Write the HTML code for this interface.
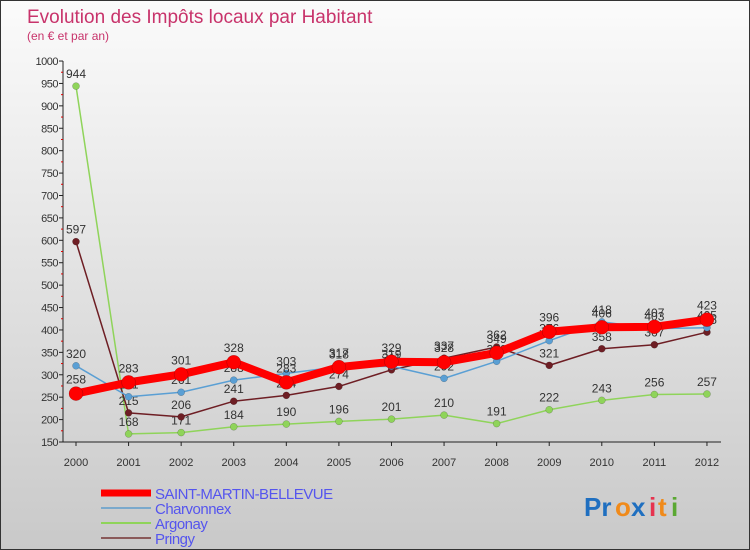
<!DOCTYPE html>
<html><head><meta charset="utf-8">
<style>
html,body{margin:0;padding:0;}
body{width:750px;height:550px;overflow:hidden;font-family:"Liberation Sans",sans-serif;}
#wrap{position:relative;width:748px;height:548px;border:1px solid #333;background:linear-gradient(#fbfbfb,#c9c9c9);}
</style></head>
<body>
<div id="wrap">
<svg id="chart" width="748" height="548" style="position:absolute;left:0;top:0">
<text x="26" y="22" font-size="19" fill="#c8336b">Evolution des Impôts locaux par Habitant</text>
<text x="26" y="39" font-size="12" fill="#c8336b">(en € et par an)</text>
<g id="axes"></g>
<g id="series"></g>
<g id="legend"></g>
<g font-size="26" font-weight="bold">
<text x="583" y="515" fill="#1f6fc0">Pr</text><text x="614" y="515" fill="#f08a1a">o</text><text x="630" y="515" fill="#1f6fc0">x</text><text x="648" y="515" fill="#e6334f">i</text><text x="657" y="515" fill="#f08a1a">t</text><text x="670" y="515" fill="#5aa832">i</text>
</g>
</svg>
</div>
<script>
const years=["2000","2001","2002","2003","2004","2005","2006","2007","2008","2009","2010","2011","2012"];
const yTicks=[150,200,250,300,350,400,450,500,550,600,650,700,750,800,850,900,950,1000];
const saintMartin=[258,283,301,328,283,317,329,328,349,396,406,407,423];
const charvonnex=[320,251,261,288,303,318,319,292,330,376,418,403,405];
const argonay=[944,168,171,184,190,196,201,210,191,222,243,256,257];
const pringy=[597,215,206,241,254,274,311,337,362,321,358,367,395];
const NS="http://www.w3.org/2000/svg";
function xS(i){return 75+i*52.58;}
function yS(v){return 441-(v-150)*0.4482;}
function mk(tag,attrs,parent){const e=document.createElementNS(NS,tag);for(const k in attrs)e.setAttribute(k,attrs[k]);parent.appendChild(e);return e;}
const axes=document.getElementById('axes');
mk('line',{x1:62,y1:yS(1000),x2:62,y2:441,stroke:'#222','stroke-width':1},axes);
mk('line',{x1:62,y1:441,x2:720,y2:441,stroke:'#222','stroke-width':1},axes);
yTicks.forEach(t=>{
  const l=mk('line',{x1:58,y1:yS(t),x2:62,y2:yS(t),stroke:'#222'},axes);
  
  
  const tx=mk('text',{x:57,y:yS(t)+4,'font-size':11,fill:'#333','text-anchor':'end','letter-spacing':'-0.5'},axes);
  tx.textContent=t;
  
  
  if(t<1000){const m=mk('line',{x1:60,y1:yS(t+25),x2:62,y2:yS(t+25),stroke:'#d00'},axes);
  
  }
});
years.forEach((y,i)=>{
  const l=mk('line',{x1:xS(i),y1:441,x2:xS(i),y2:445,stroke:'#222'},axes);
  
  
  const tx=mk('text',{x:xS(i),y:465,'font-size':11,fill:'#333','text-anchor':'middle'},axes);
  tx.textContent=y;
  
  
});
const ser=document.getElementById('series');
function draw(vals,color,width,r,name,lblOff){
  const g=mk('g',{},ser);
  
  
  const p=mk('polyline',{points:vals.map((v,i)=>xS(i)+','+yS(v)).join(' '),fill:'none',stroke:color,'stroke-width':width,'stroke-linejoin':'round'},g);
  
  
  vals.forEach((v,i)=>{
    const c=mk('circle',{cx:xS(i),cy:yS(v),r:r,fill:color,stroke:'rgba(0,0,0,0.3)','stroke-width':0.5},g);
    
    
    const t=mk('text',{x:xS(i),y:yS(v)-lblOff,'font-size':12,fill:'#333','text-anchor':'middle'},g);
    t.textContent=v;
    
    
  });
}
draw(argonay,'#8fd45a',1.5,3.5,'argonay',8);
draw(pringy,'#6e1e24',1.5,3.5,'pringy',8);
draw(charvonnex,'#5a9fd4',1.5,3.5,'charvonnex',8);
draw(saintMartin,'#ff0000',8,7,'saint-martin-bellevue',10);
const leg=document.getElementById('legend');
const items=[["SAINT-MARTIN-BELLEVUE","#ff0000",7],["Charvonnex","#7aa9cc",2],["Argonay","#8fd45a",2],["Pringy","#8a5a5a",2]];
items.forEach((it,i)=>{
  const y=492+i*15;
  const g=mk('g',{},leg);
  
  
  mk('line',{x1:100,y1:y,x2:150,y2:y,stroke:it[1],'stroke-width':it[2]},g);
  const t=mk('text',{x:154,y:y+6,'font-size':15,fill:'#5555ee','letter-spacing':'-0.5'},g);
  t.textContent=it[0];
});
</script>
</body></html>
